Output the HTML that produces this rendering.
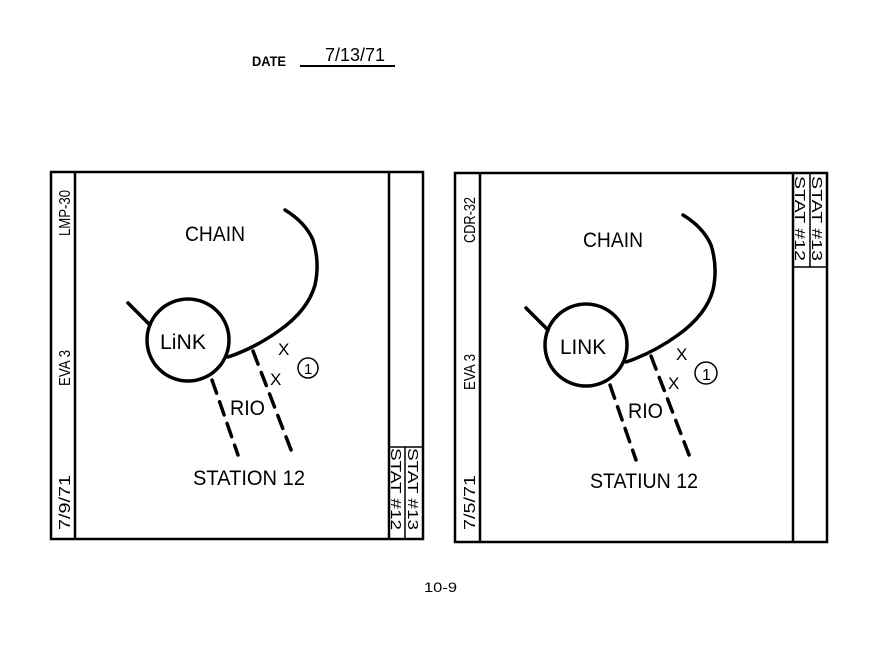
<!DOCTYPE html>
<html><head><meta charset="utf-8"><style>
html,body{margin:0;padding:0;background:#fff;}
svg{display:block;}
text{font-family:"Liberation Sans Narrow","Liberation Sans",sans-serif;fill:#000;}
</style></head><body>
<svg width="870" height="650" viewBox="0 0 870 650" xmlns="http://www.w3.org/2000/svg">
<text x="252" y="66" font-size="14" font-weight="bold" textLength="34" lengthAdjust="spacingAndGlyphs">DATE</text>
<text x="325" y="61" font-size="18" textLength="60" lengthAdjust="spacingAndGlyphs">7/13/71</text>
<line x1="300" y1="66" x2="395" y2="66" stroke="#000" stroke-width="2"/>

<!-- Left panel -->
<g>
<rect x="51" y="172" width="372" height="367" fill="none" stroke="#000" stroke-width="2.5"/>
<line x1="75" y1="172" x2="75" y2="539" stroke="#000" stroke-width="2.5"/>
<line x1="389" y1="172" x2="389" y2="539" stroke="#000" stroke-width="2.5"/>
<line x1="389" y1="447" x2="423" y2="447" stroke="#000" stroke-width="1.5"/>
<line x1="405" y1="447" x2="405" y2="539" stroke="#000" stroke-width="1.5"/>
<text transform="translate(70,236) rotate(-90)" font-size="16" textLength="46" lengthAdjust="spacingAndGlyphs">LMP-30</text>
<text transform="translate(70,386) rotate(-90)" font-size="16" textLength="36" lengthAdjust="spacingAndGlyphs">EVA 3</text>
<text transform="translate(70,530) rotate(-90)" font-size="16" textLength="55" lengthAdjust="spacingAndGlyphs">7/9/71</text>
<text transform="translate(391,448) rotate(90)" font-size="15" textLength="82" lengthAdjust="spacingAndGlyphs">STAT #12</text>
<text transform="translate(408,448) rotate(90)" font-size="15" textLength="82" lengthAdjust="spacingAndGlyphs">STAT #13</text>
</g>
<g fill="none" stroke="#000" stroke-width="3.5" stroke-linecap="round">
<circle cx="188" cy="340" r="41"/>
<path d="M128 303 L150 325"/>
<path d="M285 210 Q305 222 313 240 Q320 262 315 285 Q308 310 280 330 Q255 348 228 357"/>
<path d="M212 380 L238 455" stroke-dasharray="14 9"/>
<path d="M253 351 L293 455" stroke-dasharray="14 9"/>
<circle cx="308" cy="368" r="10" stroke-width="1.5"/>
</g>
<g font-size="21">
<text x="185" y="241" textLength="60" lengthAdjust="spacingAndGlyphs">CHAIN</text>
<text x="160" y="349" textLength="46" lengthAdjust="spacingAndGlyphs">LiNK</text>
<text x="230" y="415" textLength="35" lengthAdjust="spacingAndGlyphs">RIO</text>
<text x="193" y="485" textLength="112" lengthAdjust="spacingAndGlyphs">STATION 12</text>
<text x="278" y="355" font-size="17">X</text>
<text x="270" y="385" font-size="17">X</text>
<text x="304" y="374" font-size="15">1</text>
</g>

<!-- Right panel -->
<g>
<rect x="455" y="173" width="372" height="369" fill="none" stroke="#000" stroke-width="2.5"/>
<line x1="480" y1="173" x2="480" y2="542" stroke="#000" stroke-width="2.5"/>
<line x1="793" y1="173" x2="793" y2="542" stroke="#000" stroke-width="2.5"/>
<line x1="793" y1="267" x2="827" y2="267" stroke="#000" stroke-width="1.5"/>
<line x1="810" y1="173" x2="810" y2="267" stroke="#000" stroke-width="1.5"/>
<text transform="translate(475,243) rotate(-90)" font-size="16" textLength="46" lengthAdjust="spacingAndGlyphs">CDR-32</text>
<text transform="translate(475,390) rotate(-90)" font-size="16" textLength="36" lengthAdjust="spacingAndGlyphs">EVA 3</text>
<text transform="translate(475,530) rotate(-90)" font-size="16" textLength="55" lengthAdjust="spacingAndGlyphs">7/5/71</text>
<text transform="translate(795,176) rotate(90)" font-size="15" textLength="85" lengthAdjust="spacingAndGlyphs">STAT #12</text>
<text transform="translate(812,176) rotate(90)" font-size="15" textLength="85" lengthAdjust="spacingAndGlyphs">STAT #13</text>
</g>
<g transform="translate(398,5)">
<g fill="none" stroke="#000" stroke-width="3.5" stroke-linecap="round">
<circle cx="188" cy="340" r="41"/>
<path d="M128 303 L150 325"/>
<path d="M285 210 Q305 222 313 240 Q320 262 315 285 Q308 310 280 330 Q255 348 228 357"/>
<path d="M212 380 L238 455" stroke-dasharray="14 9"/>
<path d="M253 351 L293 455" stroke-dasharray="14 9"/>
<circle cx="308" cy="368" r="11" stroke-width="1.5"/>
</g>
<g font-size="21">
<text x="185" y="242" textLength="60" lengthAdjust="spacingAndGlyphs">CHAIN</text>
<text x="162" y="349" textLength="46" lengthAdjust="spacingAndGlyphs">LINK</text>
<text x="230" y="413" textLength="35" lengthAdjust="spacingAndGlyphs">RIO</text>
<text x="192" y="483" textLength="108" lengthAdjust="spacingAndGlyphs">STATIUN 12</text>
<text x="278" y="355" font-size="17">X</text>
<text x="270" y="384" font-size="17">X</text>
<text x="304" y="375" font-size="16">1</text>
</g>
</g>

<text x="424" y="592" font-size="14" textLength="33" lengthAdjust="spacingAndGlyphs">10-9</text>
</svg>
</body></html>
